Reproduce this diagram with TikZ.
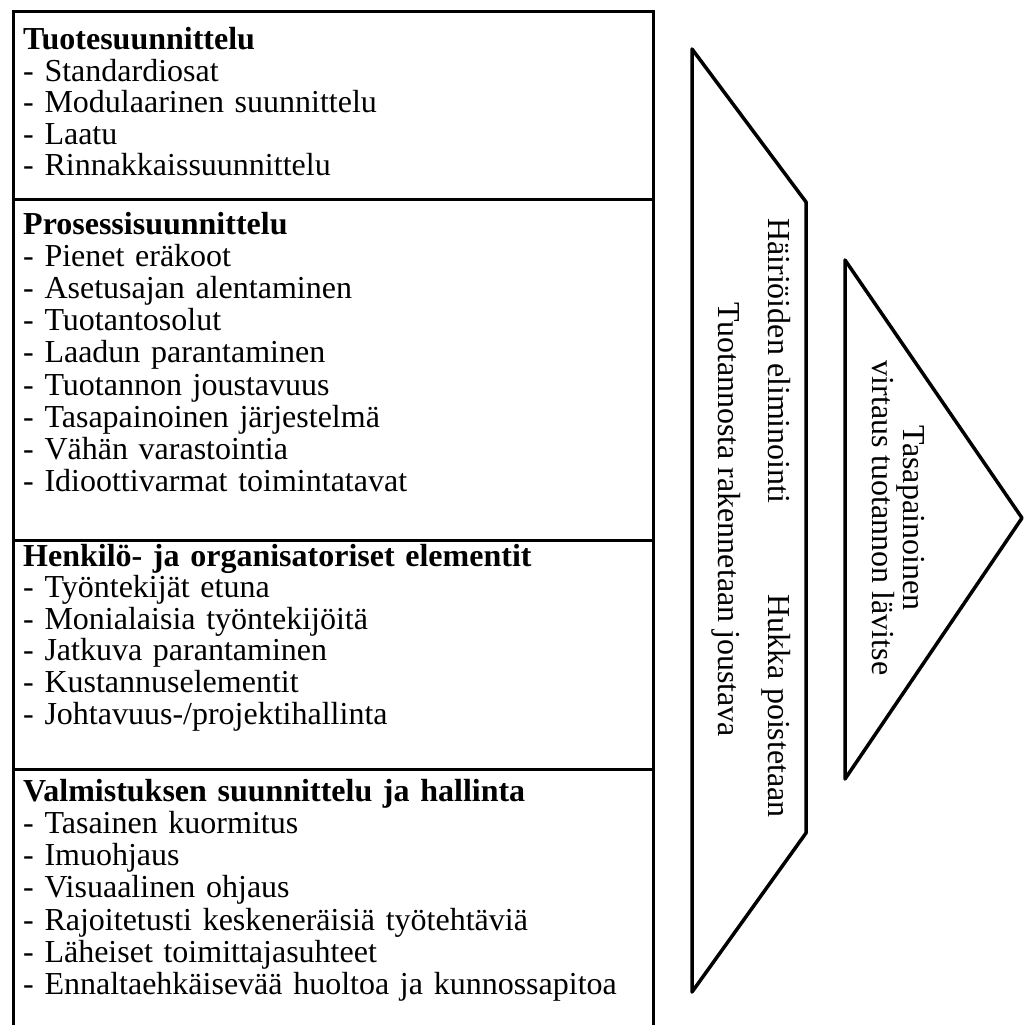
\documentclass[tikz,border=0pt]{standalone}
\usepackage{fontspec}
\setmainfont{Liberation Serif}
\usetikzlibrary{positioning}

\tikzset{
    box/.style={draw=black, line width=3pt, minimum width=640pt, inner sep=0pt, anchor=north west},
    lista/.style={anchor=base west, text width=620pt, align=left, inner sep=0pt, font=\fontsize{32}{#1}\selectfont},
    lista/.default=31.8,
    kehys/.style={draw=black, line width=3.5pt, line join=round},
    pysty/.style={rotate=-90, inner sep=0pt, font=\fontsize{32}{31.8}\selectfont}
}

\begin{document}
\begin{tikzpicture}[x=1pt, y=-1pt]
        \clip (0,0) rectangle (1025,1025);

        \node[box, minimum height=188pt] (tuote) at (12,10) {};
        \node[box, minimum height=341pt] (prosessi) at (12,198) {};
        \node[box, minimum height=229pt] (henkilo) at (12,539) {};
        \node[box, minimum height=280pt] (valmistus) at (12,768) {};

        \node[lista=31.4] (tuoteteksti) at ([xshift=11pt, yshift=-40pt]tuote.north west) {\textbf{Tuotesuunnittelu}\\- Standardiosat\\- Modulaarinen suunnittelu\\- Laatu\\- Rinnakkaissuunnittelu};
        \node[lista=32.2] (prosessiteksti) at ([xshift=11pt, yshift=-36pt]prosessi.north west) {\textbf{Prosessisuunnittelu}\\- Pienet eräkoot\\- Asetusajan alentaminen\\- Tuotantosolut\\- Laadun parantaminen\\- Tuotannon joustavuus\\- Tasapainoinen järjestelmä\\- Vähän varastointia\\- Idioottivarmat toimintatavat};
        \node[lista=31.6] (henkiloteksti) at ([xshift=11pt, yshift=-27pt]henkilo.north west) {\textbf{Henkilö- ja organisatoriset elementit}\\- Työntekijät etuna\\- Monialaisia työntekijöitä\\- Jatkuva parantaminen\\- Kustannuselementit\\- Johtavuus-/projektihallinta};
        \node[lista=32.3] (valmistusteksti) at ([xshift=11pt, yshift=-33pt]valmistus.north west) {\textbf{Valmistuksen suunnittelu ja hallinta}\\- Tasainen kuormitus\\- Imuohjaus\\- Visuaalinen ohjaus\\- Rajoitetusti keskeneräisiä työtehtäviä\\- Läheiset toimittajasuhteet\\- Ennaltaehkäisevää huoltoa ja kunnossapitoa};

        % nuolet
        \draw[kehys] (692,49) -- (806,202) -- (806,833) -- (692,992) -- cycle;
        \draw[kehys] (845,260) -- (1022,518) -- (845,779) -- cycle;

        \node[pysty, anchor=base west] (hairio) at (768,218) {Häiriöiden eliminointi};
        \node[pysty, anchor=base east] (hukka) at (768,818) {Hukka poistetaan};
        \node[pysty, anchor=base] (joustava) at (718,520) {Tuotannosta rakennetaan joustava};
        \node[pysty, anchor=base] (tasa) at (903,518) {Tasapainoinen};
        \node[pysty, anchor=base] (virtaus) at (872,518) {virtaus tuotannon lävitse};
\end{tikzpicture}
\end{document}
